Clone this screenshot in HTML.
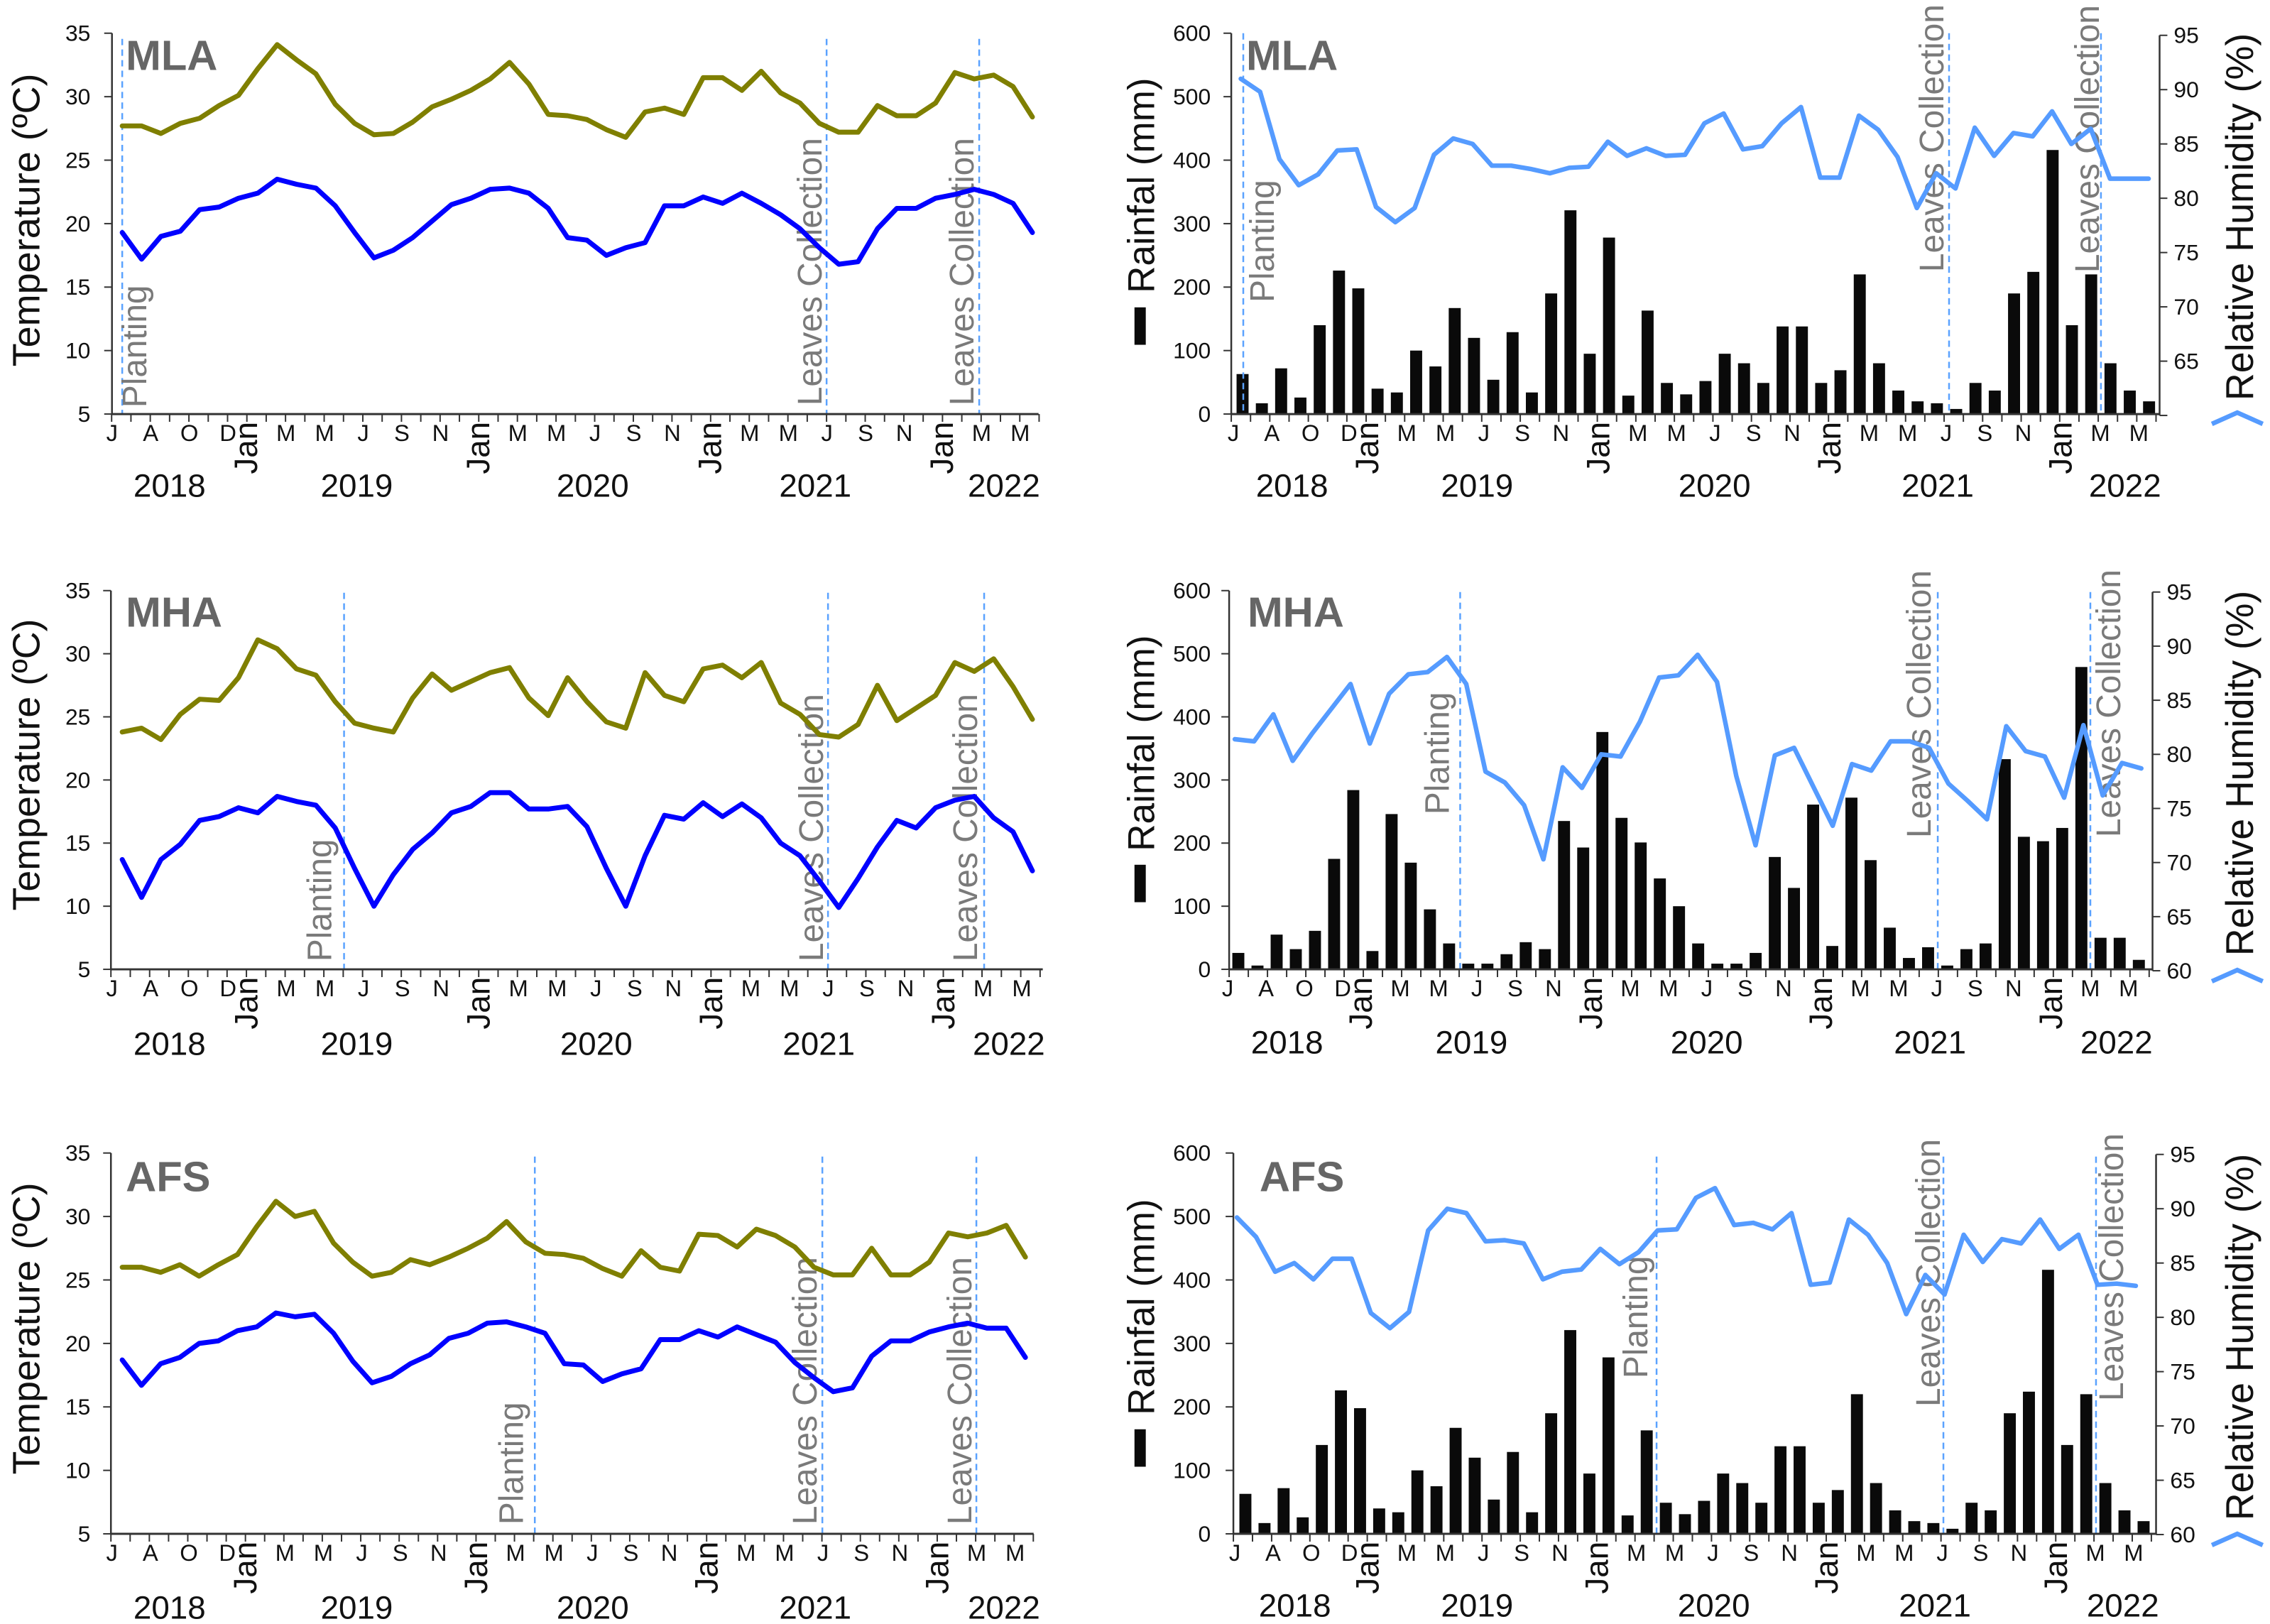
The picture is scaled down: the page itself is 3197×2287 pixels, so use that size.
<!DOCTYPE html>
<html lang="en">
<head>
<meta charset="utf-8">
<title>Temperature, rainfall and relative humidity at MLA, MHA and AFS</title>
<style>
html,body{margin:0;padding:0;background:#fff;}
svg{display:block;}
text{font-family:"Liberation Sans",Arial,sans-serif;}
</style>
</head>
<body>
<svg id="figure" xmlns="http://www.w3.org/2000/svg" width="3197" height="2287" viewBox="0 0 3197 2287"></svg>
<script>
const monthTicks = ['J','','A','','O','','D','Jan','','M','','M','','J','','S','','N','','Jan','','M','','M','','J','','S','','N','','Jan','','M','','M','','J','','S','','N','','Jan','','M','','M'];
const yearLabels = ['2018','2019','2020','2021','2022'];
const tempTicks = [5,10,15,20,25,30,35];
const rainTicks = [0,100,200,300,400,500,600];
const humidityTicks = [60,65,70,75,80,85,90,95];

const mlaTmax = [27.7,27.7,27.1,27.9,28.3,29.3,30.1,32.2,34.1,32.9,31.8,29.4,27.9,27.0,27.1,28.0,29.2,29.8,30.5,31.4,32.7,31.0,28.6,28.5,28.2,27.4,26.8,28.8,29.1,28.6,31.5,31.5,30.5,32.0,30.3,29.5,27.9,27.2,27.2,29.3,28.5,28.5,29.5,31.9,31.4,31.7,30.8,28.4];
const mlaTmin = [19.3,17.2,19.0,19.4,21.1,21.3,22.0,22.4,23.5,23.1,22.8,21.4,19.3,17.3,17.9,18.9,20.2,21.5,22.0,22.7,22.8,22.4,21.2,18.9,18.7,17.5,18.1,18.5,21.4,21.4,22.1,21.6,22.4,21.6,20.7,19.6,18.1,16.8,17.0,19.6,21.2,21.2,22.0,22.3,22.7,22.3,21.6,19.3];
const mlaRain = [63,17,72,26,140,226,198,40,34,100,75,167,120,54,129,34,190,321,95,278,29,163,49,31,52,95,80,49,138,138,49,69,220,80,37,20,17,8,49,37,190,224,416,140,220,80,37,20];
const mlaHumidity = [91,89.8,83.6,81.2,82.2,84.4,84.5,79.2,77.8,79.1,84.0,85.5,85.0,83.0,83.0,82.7,82.3,82.8,82.9,85.2,83.9,84.6,83.9,84,86.9,87.8,84.5,84.8,86.9,88.4,81.9,81.9,87.6,86.3,83.8,79.1,82.3,80.9,86.5,83.9,86,85.7,88.0,85,86.4,81.8,81.8,81.8];

const mhaTmax = [23.8,24.1,23.2,25.2,26.4,26.3,28.1,31.1,30.4,28.8,28.3,26.2,24.5,24.1,23.8,26.5,28.4,27.1,27.8,28.5,28.9,26.5,25.1,28.1,26.2,24.6,24.1,28.5,26.7,26.2,28.8,29.1,28.1,29.3,26.1,25.2,23.6,23.4,24.4,27.5,24.7,25.7,26.7,29.3,28.6,29.6,27.4,24.8];
const mhaTmin = [13.7,10.7,13.7,14.9,16.8,17.1,17.8,17.4,18.7,18.3,18.0,16.2,13.0,10.0,12.5,14.5,15.8,17.4,17.9,19.0,19.0,17.7,17.7,17.9,16.3,13.0,10.0,14.0,17.2,16.9,18.2,17.1,18.1,17.0,15.0,14.0,12.0,9.9,12.2,14.7,16.8,16.2,17.8,18.4,18.7,17.0,15.9,12.8];
const mhaRain = [26,6,55,32,61,175,284,29,246,169,95,41,9,9,24,43,32,235,193,376,240,201,144,100,41,9,9,26,178,129,261,37,272,173,66,18,35,6,32,41,333,210,203,224,479,50,50,15];
const mhaHumidity = [81.4,81.2,83.7,79.4,81.9,84.2,86.5,81.0,85.6,87.4,87.6,89.0,86.5,78.4,77.4,75.3,70.3,78.8,76.9,80.0,79.8,83,87.1,87.3,89.2,86.7,78,71.6,79.9,80.6,77.0,73.4,79.1,78.5,81.2,81.2,80.6,77.3,75.7,74.0,82.6,80.3,79.8,76.0,82.7,76.2,79.2,78.7];

const afsTmax = [26.0,26.0,25.6,26.2,25.3,26.2,27.0,29.2,31.2,30.0,30.4,27.9,26.4,25.3,25.6,26.6,26.2,26.8,27.5,28.3,29.6,28.0,27.1,27.0,26.7,25.9,25.3,27.3,26.0,25.7,28.6,28.5,27.6,29.0,28.5,27.6,26.0,25.4,25.4,27.5,25.4,25.4,26.4,28.7,28.4,28.7,29.3,26.8];
const afsTmin = [18.7,16.7,18.4,18.9,20.0,20.2,21.0,21.3,22.4,22.1,22.3,20.8,18.6,16.9,17.4,18.4,19.1,20.4,20.8,21.6,21.7,21.3,20.8,18.4,18.3,17.0,17.6,18.0,20.3,20.3,21.0,20.5,21.3,20.7,20.1,18.5,17.3,16.2,16.5,19.0,20.2,20.2,20.9,21.3,21.6,21.2,21.2,18.9];
const afsRain = [63,17,72,26,140,226,198,40,34,100,75,167,120,54,129,34,190,321,95,278,29,163,49,31,52,95,80,49,138,138,49,69,220,80,37,20,17,8,49,37,190,224,416,140,220,80,37,20];
const afsHumidity = [89.2,87.4,84.2,85.0,83.5,85.4,85.4,80.4,79.0,80.5,88.0,90.0,89.6,87,87.1,86.8,83.5,84.2,84.4,86.3,84.9,86,88.0,88.1,91.0,91.9,88.5,88.7,88.1,89.6,83.0,83.2,89.0,87.6,85.0,80.3,83.9,82.1,87.6,85.1,87.2,86.8,89.0,86.3,87.6,83.0,83.1,82.9];

const svg = document.getElementById('figure');
const NS = 'http://www.w3.org/2000/svg';
const OLIVE = '#7f7f00', BLUE = '#0000ff', SKY = '#559bff', AXIS = '#333333', GREY = '#7a7a7a';
const PANEL_SCALE = 0.995;

function mk(tag, attrs, parent, txt) {
  const n = document.createElementNS(NS, tag);
  for (const k in attrs) n.setAttribute(k, attrs[k]);
  if (txt !== undefined) n.textContent = txt;
  parent.appendChild(n);
  return n;
}
function linear(d0, d1, r0, r1) { return v => r0 + (v - d0) * (r1 - r0) / (d1 - d0); }
function panelTransform(c) {
  const tx = c.ox * (1 - PANEL_SCALE), ty = c.oy * (1 - PANEL_SCALE);
  return 'translate(' + tx + ' ' + ty + ') scale(' + PANEL_SCALE + ')';
}

function rotatedText(parent, x, y, str, size, fill, weight, len) {
  const a = {x: x, y: y, 'font-size': size, fill: fill, transform: 'rotate(-90 ' + x + ' ' + y + ')'};
  if (weight) a['font-weight'] = weight;
  if (len) { a.textLength = len; a.lengthAdjust = 'spacingAndGlyphs'; }
  return mk('text', a, parent, str);
}

function drawBottomAxis(g, c) {
  const axis = mk('line', {x1: c.tick0, x2: c.tickEnd, y1: c.bot, y2: c.bot, stroke: AXIS, 'stroke-width': 3}, g);
  
  
  const n = Math.round((c.tickEnd - c.tick0) / c.tickStep);
  for (let k = 0; k <= n; k++) {
    const tx = c.tick0 + k * c.tickStep;
    const t = mk('line', {x1: tx, x2: tx, y1: c.bot, y2: c.bot + 11, stroke: AXIS, 'stroke-width': 2}, g);
    
    
  }
  monthTicks.forEach((m, k) => {
    if (!m) return;
    const lx = c.tick0 + c.labelOff + k * c.tickStep;
    let lab;
    if (m === 'Jan') {
      lab = rotatedText(g, lx + 14, c.bot + 85, m, 46, '#111');
    } else {
      lab = mk('text', {x: lx, y: c.bot + 38, 'font-size': 33, 'text-anchor': 'middle', fill: '#111'}, g, m);
    }
    
    
  });
  yearLabels.forEach((y, i) => {
    const lab = mk('text', {x: c.yearX[i], y: c.yearY, 'font-size': 46, 'text-anchor': 'middle', fill: '#111'}, g, y);
    
    
  });
}

function drawLeftAxis(g, c, ticks, scale, labelRight) {
  const line = mk('line', {x1: c.axisX, x2: c.axisX, y1: c.top, y2: c.bot, stroke: AXIS, 'stroke-width': 2.5}, g);
  
  
  ticks.forEach(v => {
    const y = scale(v);
    const t = mk('line', {x1: c.axisX - 11, x2: c.axisX, y1: y, y2: y, stroke: AXIS, 'stroke-width': 2}, g);
    
    
    const l = mk('text', {x: labelRight, y: y + 11, 'font-size': 32, 'text-anchor': 'end', fill: '#111'}, g, String(v));
    
    
  });
}

function drawSeries(g, c, values, color, width, name, scale, x0, step) {
  const pts = values.map((v, i) => (x0 + i * step).toFixed(1) + ',' + scale(v).toFixed(1)).join(' ');
  const p = mk('polyline', {points: pts, fill: 'none', stroke: color, 'stroke-width': width, 'stroke-linejoin': 'round', 'stroke-linecap': 'round'}, g);
  
  
}

function drawMarkers(g, c) {
  c.marks.forEach(m => {
    const v = mk('line', {x1: m.x, x2: m.x, y1: c.markTop, y2: c.bot, stroke: '#5aa2ff', 'stroke-width': 2.5, 'stroke-dasharray': '9 6'}, g);
    
    
    const isPlant = m.label === 'Planting';
    const t = rotatedText(g, m.lx, m.ly, m.label, 48, GREY);
    
    
  });
}

function drawSite(g, c) {
  const t = mk('text', {x: c.siteX, y: c.siteY, 'font-size': 60, 'font-weight': 'bold', fill: '#666666'}, g, c.site);
  
  
}

function drawTempPanel(c, tmax, tmin) {
  const g = mk('g', {transform: panelTransform(c)}, svg);
  
  
  const y = linear(5, 35, c.bot, c.top);
  drawMarkers(g, c);
  drawSeries(g, c, tmax, OLIVE, 7, 'max-temperature-line', y, c.pt0, c.ptStep);
  drawSeries(g, c, tmin, BLUE, 7, 'min-temperature-line', y, c.pt0, c.ptStep);
  drawLeftAxis(g, c, tempTicks, y, 128);
  drawBottomAxis(g, c);
  drawSite(g, c);
  const ttl = rotatedText(g, 56, c.titleY, 'Temperature (ºC)', 54, '#111', null, c.titleLen);
  
  
}

function drawRainPanel(c, rain, rh) {
  const g = mk('g', {transform: panelTransform(c)}, svg);
  
  
  const y = linear(0, 600, c.bot, c.top);
  const yr = linear(60, 95, c.rBot, c.rTop);
  rain.forEach((v, i) => {
    const b = mk('rect', {x: c.bar0 + i * c.barStep - 8.5, y: y(v), width: 17, height: c.bot - y(v), fill: '#0a0a0a'}, g);
    
    
  });
  drawMarkers(g, c);
  drawSeries(g, c, rh, SKY, 6.5, 'relative-humidity-line', yr, c.pt0, c.ptStep);
  drawLeftAxis(g, c, rainTicks, y, 1706);
  const ra = mk('line', {x1: c.rightX, x2: c.rightX, y1: c.rTop, y2: c.rBot, stroke: AXIS, 'stroke-width': 2.5}, g);
  
  
  humidityTicks.forEach(v => {
    const ty = yr(v);
    const t = mk('line', {x1: c.rightX, x2: c.rightX + 11, y1: ty, y2: ty, stroke: AXIS, 'stroke-width': 2}, g);
    
    
    if (v === 60 && c.site === 'MLA') return;
    const l = mk('text', {x: c.rightX + 20, y: ty + 11, 'font-size': 32, fill: '#111'}, g, String(v));
    
    
  });
  drawBottomAxis(g, c);
  drawSite(g, c);
  const t1 = rotatedText(g, 1626, c.rainTitleY, 'Rainfal (mm)', 53, '#111', null, c.rainTitleLen);
  
  
  const key = mk('rect', {x: 1598, y: c.keyY, width: 16, height: 53, fill: '#0a0a0a'}, g);
  
  
  const t2 = rotatedText(g, 3181, c.rhTitleY, 'Relative Humidity (%)', 55, '#111', null, c.rhTitleLen);
  
  
  const chev = mk('polyline', {points: '3123,' + c.chevY + ' 3159,' + (c.chevY - 16) + ' 3195,' + c.chevY, fill: 'none', stroke: SKY, 'stroke-width': 6.5}, g);
  
  
}

const LC = 'Leaves Collection', PL = 'Planting';

drawTempPanel({site:'MLA', ox:0, oy:0, axisX:158.5, top:47, bot:586, tick0:158, tickStep:27.35, tickEnd:1470, labelOff:0.6,
  pt0:173, ptStep:27.41, yearX:[240,505,839,1154,1421], yearY:703, siteX:178, siteY:99, titleY:519, titleLen:415, markTop:55,
  marks:[{x:173,label:PL,lx:207,ly:577},{x:1170,label:LC,lx:1163,ly:574},{x:1386,label:LC,lx:1378,ly:574}]}, mlaTmax, mlaTmin);

drawRainPanel({site:'MLA', ox:1550, oy:0, axisX:1735, top:47, bot:586, rightX:3049, rTop:50, rBot:588, tick0:1735, tickStep:27.27, tickEnd:3049, labelOff:3,
  bar0:1751, barStep:27.3, pt0:1748.5, ptStep:27.34, yearX:[1821,2083,2419,2735,3000], yearY:703, siteX:1756, siteY:99,
  rainTitleY:415, rainTitleLen:305, keyY:435, rhTitleY:567, rhTitleLen:520, chevY:600, markTop:47,
  marks:[{x:1752,label:PL,lx:1795,ly:428},{x:2751,label:LC,lx:2743,ly:385},{x:2966,label:LC,lx:2963,ly:386}]}, mlaRain, mlaHumidity);

drawTempPanel({site:'MHA', ox:0, oy:780, axisX:157, top:832, bot:1368, tick0:157, tickStep:27.4, tickEnd:1476, labelOff:1.5,
  pt0:173, ptStep:27.41, yearX:[240,505,844,1159,1428], yearY:1489, siteX:178, siteY:883, titleY:1285, titleLen:413, markTop:835,
  marks:[{x:487,label:PL,lx:469,ly:1357},{x:1172,label:LC,lx:1165,ly:1357},{x:1393,label:LC,lx:1383,ly:1357}]}, mhaTmax, mhaTmin);

drawRainPanel({site:'MHA', ox:1550, oy:780, axisX:1732, top:832, bot:1368, rightX:3039, rTop:834, rBot:1370, tick0:1732, tickStep:27.13, tickEnd:3039, labelOff:-2,
  bar0:1745, barStep:27.12, pt0:1740, ptStep:27.3, yearX:[1814,2075,2408,2724,2988], yearY:1487, siteX:1758, siteY:883,
  rainTitleY:1201, rainTitleLen:306, keyY:1220, rhTitleY:1349, rhTitleLen:517, chevY:1385, markTop:834,
  marks:[{x:2059,label:PL,lx:2043,ly:1149},{x:2735,label:LC,lx:2725,ly:1182},{x:2951,label:LC,lx:2993,ly:1181}]}, mhaRain, mhaHumidity);

drawTempPanel({site:'AFS', ox:0, oy:1570, axisX:157, top:1624, bot:2163, tick0:157, tickStep:27.2, tickEnd:1463, labelOff:1.5,
  pt0:173, ptStep:27.2, yearX:[240,505,839,1154,1421], yearY:2283, siteX:178, siteY:1678, titleY:2079, titleLen:413, markTop:1629,
  marks:[{x:757,label:PL,lx:740,ly:2150},{x:1164,label:LC,lx:1156,ly:2150},{x:1382,label:LC,lx:1375,ly:2150}]}, afsTmax, afsTmin);

drawRainPanel({site:'AFS', ox:1550, oy:1570, axisX:1738, top:1624, bot:2163, rightX:3044, rTop:1626, rBot:2164, tick0:1738, tickStep:27.07, tickEnd:3044, labelOff:2,
  bar0:1755, barStep:27.05, pt0:1743, ptStep:27.07, yearX:[1825,2083,2418,2731,2997], yearY:2280, siteX:1775, siteY:1678,
  rainTitleY:1995, rainTitleLen:306, keyY:2015, rhTitleY:2144, rhTitleLen:519, chevY:2179, markTop:1629,
  marks:[{x:2337,label:PL,lx:2324,ly:1943},{x:2743,label:LC,lx:2738,ly:1983},{x:2959,label:LC,lx:2997,ly:1975}]}, afsRain, afsHumidity);
</script>
</body>
</html>
